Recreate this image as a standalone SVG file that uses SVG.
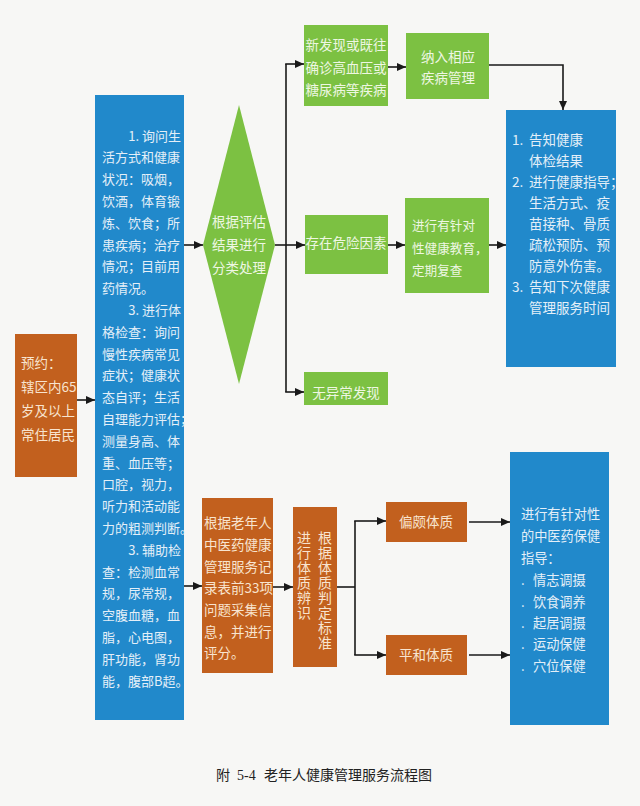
<svg xmlns="http://www.w3.org/2000/svg" width="640" height="806" viewBox="0 0 640 806">
<defs>
<marker id="ah" markerUnits="userSpaceOnUse" markerWidth="9" markerHeight="8" refX="9" refY="4" orient="auto">
<path d="M0,0 L9,4 L0,8 z" fill="#1a1a1a"/>
</marker>
<style>
.bg{fill:#f7f7f5}
.or{fill:#c2601e}
.bl{fill:#2189cb}
.gr{fill:#7cc142}
text{font-family:"Noto Sans CJK SC","Noto Sans",sans-serif}
.tw{fill:#e4eff8;font-size:13px}
.tr{fill:#e4eff8;font-size:13.5px}
.tb{fill:#e4eff8;font-size:13.2px}
.to{fill:#f8e4cf;font-size:13.5px}
.tg{fill:#eef7e2;font-size:13.5px}
.tv{fill:#f8e4cf;font-size:14px;writing-mode:vertical-rl;letter-spacing:1px}
.c{text-anchor:middle}
.e{text-anchor:end}
.ln{fill:none;stroke:#1a1a1a;stroke-width:1.6}
.ar{fill:none;stroke:#1a1a1a;stroke-width:1.6;marker-end:url(#ah)}
.cap{font-family:"Liberation Serif","Noto Sans CJK SC",serif;font-size:14px;fill:#222}
</style>
</defs>
<rect class="bg" x="0" y="0" width="640" height="806"/>

<g id="connectors">
<path class="ar" d="M77,400 H95"/>
<path class="ar" d="M184,245 H203"/>
<path class="ar" d="M184,586 H202"/>
<path class="ar" d="M275,245 H305"/>
<path class="ln" d="M286,64 V392"/>
<path class="ar" d="M285.2,64 H304"/>
<path class="ar" d="M285.2,392 H304"/>
<path class="ar" d="M388,67 H406"/>
<path class="ar" d="M388,245 H405"/>
<path class="ar" d="M489,245 H506"/>
<path class="ar" d="M489,65 H563 V110"/>
<path class="ar" d="M273,587 H293"/>
<path class="ln" d="M337,587 H355"/>
<path class="ln" d="M355,521 V655"/>
<path class="ar" d="M354.2,521 H386"/>
<path class="ar" d="M354.2,655 H386"/>
<path class="ar" d="M469,522 H510"/>
<path class="ar" d="M469,655 H510"/>
</g>

<g id="n_appt">
<rect class="or" x="15" y="334" width="62" height="143"/>
<text class="to" x="21" y="368">预约：</text>
<text class="to" x="21" y="392">辖区内65</text>
<text class="to" x="21" y="416">岁及以上</text>
<text class="to" x="21" y="440">常住居民</text>
</g>

<g id="n_assess">
<rect class="bl" x="95" y="95" width="89" height="625"/>
<text class="tw e" x="181" y="140.5">1. 询问生</text>
<text class="tw" x="102" y="162.3">活方式和健康</text>
<text class="tw" x="102" y="184.1">状况：吸烟，</text>
<text class="tw" x="102" y="205.9">饮酒，体育锻</text>
<text class="tw" x="102" y="227.7">炼、饮食；所</text>
<text class="tw" x="102" y="249.5">患疾病；治疗</text>
<text class="tw" x="102" y="271.3">情况；目前用</text>
<text class="tw" x="102" y="293.1">药情况。</text>
<text class="tw e" x="181" y="314.9">3. 进行体</text>
<text class="tw" x="102" y="336.7">格检查：询问</text>
<text class="tw" x="102" y="358.5">慢性疾病常见</text>
<text class="tw" x="102" y="380.3">症状；健康状</text>
<text class="tw" x="102" y="402.1">态自评；生活</text>
<text class="tw" x="102" y="423.9">自理能力评估；</text>
<text class="tw" x="102" y="445.7">测量身高、体</text>
<text class="tw" x="102" y="467.5">重、血压等；</text>
<text class="tw" x="102" y="489.3">口腔，视力，</text>
<text class="tw" x="102" y="511.1">听力和活动能</text>
<text class="tw" x="102" y="532.9">力的粗测判断。</text>
<text class="tw e" x="181" y="554.7">3. 辅助检</text>
<text class="tw" x="102" y="576.5">查：检测血常</text>
<text class="tw" x="102" y="598.3">规，尿常规，</text>
<text class="tw" x="102" y="620.1">空腹血糖，血</text>
<text class="tw" x="102" y="641.9">脂，心电图，</text>
<text class="tw" x="102" y="663.7">肝功能，肾功</text>
<text class="tw" x="102" y="685.5">能，腹部B超。</text>
</g>

<g id="n_classify">
<polygon class="gr" points="239,105 275,245 239,384 203,245"/>
<text class="tg c" x="239" y="227">根据评估</text>
<text class="tg c" x="239" y="250">结果进行</text>
<text class="tg c" x="239" y="273">分类处理</text>
</g>

<g id="n_newdx">
<rect class="gr" x="304" y="25" width="84" height="81"/>
<text class="tg c" x="346" y="50">新发现或既往</text>
<text class="tg c" x="346" y="73">确诊高血压或</text>
<text class="tg c" x="346" y="95">糖尿病等疾病</text>
</g>

<g id="n_manage">
<rect class="gr" x="406" y="33" width="83" height="66"/>
<text class="tg c" x="448" y="62">纳入相应</text>
<text class="tg c" x="448" y="83">疾病管理</text>
</g>

<g id="n_risk">
<rect class="gr" x="305" y="215" width="83" height="59"/>
<text class="tg c" x="346" y="248">存在危险因素</text>
</g>

<g id="n_edu">
<rect class="gr" x="405" y="198" width="84" height="95"/>
<text class="tg" x="412" y="230" style="font-size:12.6px">进行有针对</text>
<text class="tg" x="412" y="253" style="font-size:12.6px">性健康教育，</text>
<text class="tg" x="412" y="275" style="font-size:12.6px">定期复查</text>
</g>

<g id="n_normal">
<rect class="gr" x="304" y="372" width="84" height="33"/>
<text class="tg c" x="346" y="398">无异常发现</text>
</g>

<g id="n_result">
<rect class="bl" x="506" y="110" width="110" height="257"/>
<text class="tr" x="512" y="145">1.</text>
<text class="tr" x="529" y="145">告知健康</text>
<text class="tr" x="529" y="166">体检结果</text>
<text class="tr" x="512" y="187">2.</text>
<text class="tr" x="529" y="187">进行健康指导；</text>
<text class="tr" x="529" y="208">生活方式、疫</text>
<text class="tr" x="529" y="229">苗接种、骨质</text>
<text class="tr" x="529" y="250">疏松预防、预</text>
<text class="tr" x="529" y="271">防意外伤害。</text>
<text class="tr" x="512" y="292">3.</text>
<text class="tr" x="529" y="292">告知下次健康</text>
<text class="tr" x="529" y="313">管理服务时间</text>
</g>

<g id="n_tcm_collect">
<rect class="or" x="202" y="498" width="71" height="175"/>
<text class="to" x="204" y="528">根据老年人</text>
<text class="to" x="204" y="550">中医药健康</text>
<text class="to" x="204" y="572">管理服务记</text>
<text class="to" x="204" y="593">录表前33项</text>
<text class="to" x="204" y="615">问题采集信</text>
<text class="to" x="204" y="637">息，并进行</text>
<text class="to" x="204" y="658">评分。</text>
</g>

<g id="n_constitution">
<rect class="or" x="293" y="507" width="44" height="160"/>
<text class="tv" x="325" y="531">根据体质判定标准</text>
<text class="tv" x="304" y="531">进行体质辨识</text>
</g>

<g id="n_biased">
<rect class="or" x="386" y="502" width="81" height="40"/>
<text class="to c" x="426" y="527">偏颇体质</text>
</g>

<g id="n_balanced">
<rect class="or" x="386" y="635" width="81" height="40"/>
<text class="to c" x="426" y="660">平和体质</text>
</g>

<g id="n_tcm_guide">
<rect class="bl" x="510" y="452" width="99" height="273"/>
<text class="tb" x="521" y="519">进行有针对性</text>
<text class="tb" x="521" y="541">的中医药保健</text>
<text class="tb" x="521" y="563">指导：</text>
<text class="tb" x="521" y="585">.</text>
<text class="tb" x="533" y="585">情志调摄</text>
<text class="tb" x="521" y="607">.</text>
<text class="tb" x="533" y="607">饮食调养</text>
<text class="tb" x="521" y="628">.</text>
<text class="tb" x="533" y="628">起居调摄</text>
<text class="tb" x="521" y="649">.</text>
<text class="tb" x="533" y="649">运动保健</text>
<text class="tb" x="521" y="671">.</text>
<text class="tb" x="533" y="671">穴位保健</text>
</g>

<text class="cap" y="780"><tspan x="216">附</tspan><tspan x="237">5-4</tspan><tspan x="264">老年人健康管理服务流程图</tspan></text>
</svg>
